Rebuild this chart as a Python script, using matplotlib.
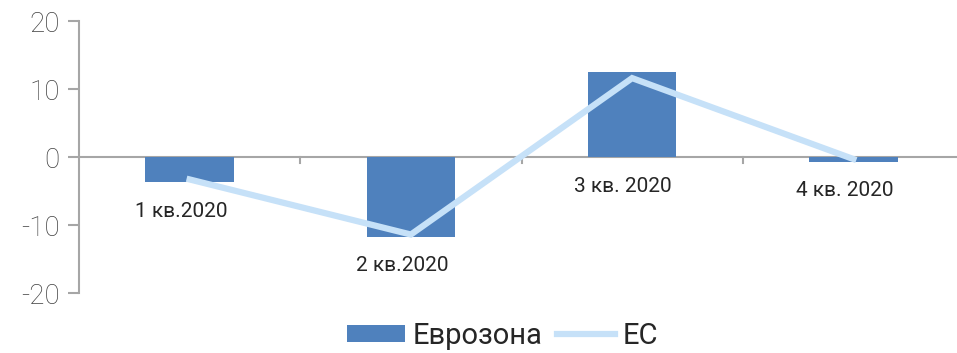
import matplotlib.pyplot as plt
import numpy as np

plt.rcParams['font.family'] = ['Roboto', 'DejaVu Sans']
plt.rcParams['axes.unicode_minus'] = False

# Данные по кварталам
quarters = ["1 кв.2020", "2 кв.2020", "3 кв. 2020", "4 кв. 2020"]
eurozone = [-3.7, -11.7, 12.5, -0.7]
eu = [-3.3, -11.4, 11.6, -0.3]

bar_color = "#4f81bd"
line_color = "#c6e1f8"
axis_color = "#a6a6a6"
text_color = "#262626"

fig = plt.figure(figsize=(9.57, 3.53), dpi=100)
ax = fig.add_axes([79 / 957, 60 / 353, 885 / 957, 272 / 353])

x = np.arange(len(quarters))
bars = ax.bar(x, eurozone, width=0.40, color=bar_color, label="Еврозона", zorder=2)
line, = ax.plot(x, eu, color=line_color, linewidth=4.5, label="ЕС", zorder=3,
                solid_joinstyle="miter")

ax.set_xlim(-0.5, len(quarters) - 0.5)
ax.set_ylim(-20, 20)
ax.set_yticks([-20, -10, 0, 10, 20])

# Нулевая линия и деления между категориями
ax.axhline(0, color=axis_color, linewidth=1.5, zorder=1)
for b in x[1:] - 0.5:
    ax.plot([b, b], [0, -0.9], color=axis_color, linewidth=1.5, zorder=1)

# Подписи категорий под столбцами
for xi, label, v in zip(x, quarters, eurozone):
    ax.text(xi - 0.04, min(v, 0) - 4.3, label, ha="center", va="center",
            fontsize=15, color=text_color)

for s in ["top", "right", "bottom"]:
    ax.spines[s].set_visible(False)
ax.spines["left"].set_color(axis_color)
ax.spines["left"].set_linewidth(1.5)
ax.tick_params(axis="y", length=8, width=1.5, color=axis_color,
               labelsize=20, labelcolor="#404040", pad=6)
ax.tick_params(axis="x", bottom=False, labelbottom=False)
for t in ax.get_yticklabels():
    t.set_fontweight("light")

fig.legend([bars, line], ["Еврозона", "ЕС"], loc="center",
           bbox_to_anchor=(0.525, 17 / 353), ncol=2, frameon=False,
           fontsize=21, handlelength=2.0, handleheight=0.55, handletextpad=0.25,
           columnspacing=0.5, borderpad=0, labelcolor=text_color)

plt.savefig("out.png", dpi=100)
